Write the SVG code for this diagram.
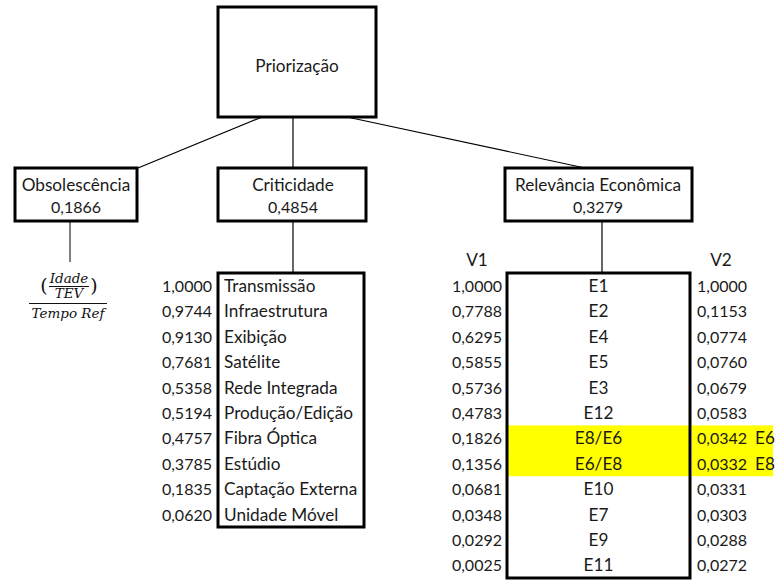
<svg xmlns="http://www.w3.org/2000/svg" width="783" height="581" viewBox="0 0 783 581">
  <style>
    .box { fill: #ffffff; stroke: #000000; stroke-width: 3; }
    .list { fill: none; stroke: #000000; stroke-width: 3; }
    .link { stroke: #000000; stroke-width: 1.2; fill: none; }
    .t { font-family: Lato, "Liberation Sans", sans-serif; font-size: 17.2px; fill: #1a1a1a; }
    .n { font-family: Lato, "Liberation Sans", sans-serif; font-size: 16px; fill: #1a1a1a; }
    .c { text-anchor: middle; }
    .r { text-anchor: end; }
    .m { font-family: "DejaVu Serif", "Liberation Serif", serif; font-style: italic; font-size: 13.5px; fill: #111111; text-anchor: middle; }
    .p { font-family: "DejaVu Serif", "Liberation Serif", serif; font-size: 19px; fill: #111111; text-anchor: middle; }
    .hl { fill: #ffff00; }
  </style>

  <!-- tree connectors -->
  <g id="connectors">
    <line class="link" x1="262" y1="117" x2="138" y2="168"/>
    <line class="link" x1="293" y1="117" x2="293" y2="168"/>
    <line class="link" x1="347" y1="117" x2="585" y2="168"/>
    <line x1="70" y1="221" x2="70" y2="262" stroke="#555555" stroke-width="1.5"/>
    <line class="link" x1="293" y1="221" x2="293" y2="273"/>
    <line class="link" x1="602" y1="221" x2="602" y2="273"/>
  </g>

  <!-- root -->
  <g id="priorizacao">
    <rect class="box" x="218" y="7" width="158" height="110"/>
    <text class="t c" x="297" y="72">Priorização</text>
  </g>

  <!-- criteria -->
  <g id="obsolescencia">
    <rect class="box" x="15" y="168" width="122" height="53"/>
    <text class="t c" x="76" y="191">Obsolescência</text>
    <text class="n c" x="76" y="213">0,1866</text>
  </g>
  <g id="criticidade">
    <rect class="box" x="218" y="168" width="148" height="53"/>
    <text class="t c" x="293" y="191">Criticidade</text>
    <text class="n c" x="293" y="213">0,4854</text>
  </g>
  <g id="relevancia">
    <rect class="box" x="505" y="168" width="187" height="53"/>
    <text class="t c" x="598" y="191">Relevância Econômica</text>
    <text class="n c" x="598" y="213">0,3279</text>
  </g>

  <!-- obsolescence formula: (Idade / TEV) / Tempo Ref -->
  <g id="formula">
    <text class="m" x="69" y="283">Idade</text>
    <line x1="49" y1="286.5" x2="89" y2="286.5" stroke="#111111" stroke-width="1"/>
    <text class="m" x="69" y="298">TEV</text>
    <text class="p" x="44" y="292">(</text>
    <text class="p" x="94" y="292">)</text>
    <line x1="29" y1="303.5" x2="107" y2="303.5" stroke="#111111" stroke-width="1.2"/>
    <text class="m" x="68" y="318">Tempo Ref</text>
  </g>

  <!-- criticality ranking -->
  <g id="crit-list">
    <rect class="list" x="218" y="273" width="146" height="254"/>
    <g class="n r">
      <text x="212" y="292">1,0000</text>
      <text x="212" y="317.4">0,9744</text>
      <text x="212" y="342.8">0,9130</text>
      <text x="212" y="368.2">0,7681</text>
      <text x="212" y="393.6">0,5358</text>
      <text x="212" y="419">0,5194</text>
      <text x="212" y="444.4">0,4757</text>
      <text x="212" y="469.8">0,3785</text>
      <text x="212" y="495.2">0,1835</text>
      <text x="212" y="520.6">0,0620</text>
    </g>
    <g class="t">
      <text x="224" y="292">Transmissão</text>
      <text x="224" y="317.4">Infraestrutura</text>
      <text x="224" y="342.8">Exibição</text>
      <text x="224" y="368.2">Satélite</text>
      <text x="224" y="393.6">Rede Integrada</text>
      <text x="224" y="419">Produção/Edição</text>
      <text x="224" y="444.4">Fibra Óptica</text>
      <text x="224" y="469.8">Estúdio</text>
      <text x="224" y="495.2">Captação Externa</text>
      <text x="224" y="520.6">Unidade Móvel</text>
    </g>
  </g>

  <!-- economic relevance ranking, V1 and V2 -->
  <g id="econ-list">
    <rect class="hl" x="508" y="425.4" width="181" height="50.8"/>
    <rect class="hl" x="692" y="425.4" width="81" height="50.8"/>
    <rect class="list" x="507" y="273" width="183" height="305"/>
    <text class="t c" x="477" y="266">V1</text>
    <text class="t c" x="721" y="266">V2</text>
    <g class="n r">
      <text x="502" y="292">1,0000</text>
      <text x="502" y="317.4">0,7788</text>
      <text x="502" y="342.8">0,6295</text>
      <text x="502" y="368.2">0,5855</text>
      <text x="502" y="393.6">0,5736</text>
      <text x="502" y="419">0,4783</text>
      <text x="502" y="444.4">0,1826</text>
      <text x="502" y="469.8">0,1356</text>
      <text x="502" y="495.2">0,0681</text>
      <text x="502" y="520.6">0,0348</text>
      <text x="502" y="546">0,0292</text>
      <text x="502" y="571.4">0,0025</text>
    </g>
    <g class="t c">
      <text x="598.5" y="292">E1</text>
      <text x="598.5" y="317.4">E2</text>
      <text x="598.5" y="342.8">E4</text>
      <text x="598.5" y="368.2">E5</text>
      <text x="598.5" y="393.6">E3</text>
      <text x="598.5" y="419">E12</text>
      <text x="598.5" y="444.4">E8/E6</text>
      <text x="598.5" y="469.8">E6/E8</text>
      <text x="598.5" y="495.2">E10</text>
      <text x="598.5" y="520.6">E7</text>
      <text x="598.5" y="546">E9</text>
      <text x="598.5" y="571.4">E11</text>
    </g>
    <g class="n">
      <text x="697" y="292">1,0000</text>
      <text x="697" y="317.4">0,1153</text>
      <text x="697" y="342.8">0,0774</text>
      <text x="697" y="368.2">0,0760</text>
      <text x="697" y="393.6">0,0679</text>
      <text x="697" y="419">0,0583</text>
      <text x="697" y="444.4">0,0342</text>
      <text x="697" y="469.8">0,0332</text>
      <text x="697" y="495.2">0,0331</text>
      <text x="697" y="520.6">0,0303</text>
      <text x="697" y="546">0,0288</text>
      <text x="697" y="571.4">0,0272</text>
    </g>
    <g class="t">
      <text x="755" y="444.4">E6</text>
      <text x="755" y="469.8">E8</text>
    </g>
  </g>
</svg>
